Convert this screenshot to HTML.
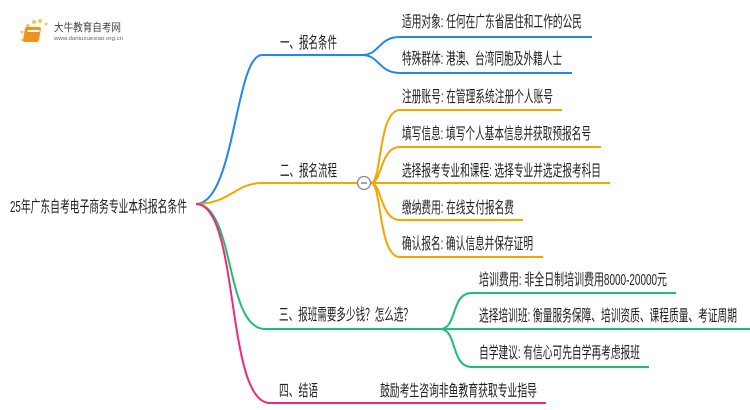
<!DOCTYPE html>
<html><head><meta charset="utf-8"><style>
body{margin:0;background:#fff;}
svg{display:block;}
text{font-family:"Liberation Sans","Noto Sans CJK SC",sans-serif;font-size:16px;fill:#222;}
</style></head><body>
<svg width="750" height="410" viewBox="0 0 750 410">
<g>
<circle cx="28" cy="26" r="2" fill="#f7c55a"/><circle cx="34" cy="22" r="2" fill="#f7c55a"/><circle cx="40" cy="21" r="2" fill="#f7c55a"/><circle cx="22" cy="32" r="1.5" fill="#f7c55a"/><circle cx="46" cy="24" r="1.5" fill="#f7c55a"/><circle cx="22" cy="40" r="1.5" fill="#f7d58a"/>
<rect x="30" y="27" width="16" height="15" rx="2" fill="#f0931e" transform="skewX(-10)"/>
<rect x="33" y="30" width="12" height="2" fill="#fff" transform="skewX(-10)"/>
<text x="54" y="31" style="font-size:11px;fill:#444" textLength="67" lengthAdjust="spacingAndGlyphs">大牛教育自考网</text>
<text x="54" y="40" style="font-size:5px;fill:#666" textLength="69" lengthAdjust="spacingAndGlyphs">www.daniuxuexiao.org.cn</text>
</g>
<text x="10" y="212" textLength="177" lengthAdjust="spacingAndGlyphs">25年广东自考电子商务专业本科报名条件</text>
<g fill="none" stroke-width="2">
<path d="M196 204 C235 204 235 55 262 55 L362 55" stroke="#1e88f0"/>
<path d="M362 55 C380 55 378 37 400 37 L592 37 M362 55 C380 55 378 73 400 73 L572 73" stroke="#1e88f0"/>
<path d="M196 204 C230 204 235 183 262 183 L357 183" stroke="#f5a500"/>
<path d="M371 183 C382 183 378 110 400 110 L562 110 M371 183 C382 183 380 147 400 147 L601 147 M371 183 L610 183 M371 183 C382 183 380 220 400 220 L523 220 M371 183 C382 183 378 257 400 257 L543 257" stroke="#f5a500"/>
<path d="M196 204 C235 204 225 329 265 329 L440 329" stroke="#1dbf73"/>
<path d="M440 329 C458 329 450 293 472 293 L676 293 M440 329 L750 329 M440 329 C458 329 450 367 472 367 L649 367" stroke="#1dbf73"/>
<path d="M196 204 C240 204 225 403 270 403 L546 403" stroke="#f0287a"/>
</g>
<circle cx="364" cy="183" r="6.5" fill="#fff" stroke="#888" stroke-width="1.3"/>
<line x1="361" y1="183" x2="367" y2="183" stroke="#666" stroke-width="1.2"/>
<text x="280" y="48" textLength="57" lengthAdjust="spacingAndGlyphs">一、报名条件</text>
<text x="280" y="176" textLength="57" lengthAdjust="spacingAndGlyphs">二、报名流程</text>
<text x="279" y="320" textLength="134" lengthAdjust="spacingAndGlyphs">三、报班需要多少钱？怎么选？</text>
<text x="279" y="396" textLength="39" lengthAdjust="spacingAndGlyphs">四、结语</text>
<text x="402" y="27" textLength="180" lengthAdjust="spacingAndGlyphs">适用对象: 任何在广东省居住和工作的公民</text>
<text x="402" y="64" textLength="160" lengthAdjust="spacingAndGlyphs">特殊群体: 港澳、台湾同胞及外籍人士</text>
<text x="402" y="102" textLength="151" lengthAdjust="spacingAndGlyphs">注册账号: 在管理系统注册个人账号</text>
<text x="402" y="139" textLength="189" lengthAdjust="spacingAndGlyphs">填写信息: 填写个人基本信息并获取预报名号</text>
<text x="402" y="176" textLength="199" lengthAdjust="spacingAndGlyphs">选择报考专业和课程: 选择专业并选定报考科目</text>
<text x="402" y="213" textLength="112" lengthAdjust="spacingAndGlyphs">缴纳费用: 在线支付报名费</text>
<text x="402" y="249" textLength="131" lengthAdjust="spacingAndGlyphs">确认报名: 确认信息并保存证明</text>
<text x="479" y="285" textLength="188" lengthAdjust="spacingAndGlyphs">培训费用: 非全日制培训费用8000-20000元</text>
<text x="479" y="321" textLength="258" lengthAdjust="spacingAndGlyphs">选择培训班: 衡量服务保障、培训资质、课程质量、考证周期</text>
<text x="479" y="358" textLength="161" lengthAdjust="spacingAndGlyphs">自学建议: 有信心可先自学再考虑报班</text>
<text x="380" y="396" textLength="157" lengthAdjust="spacingAndGlyphs">鼓励考生咨询非鱼教育获取专业指导</text>
</svg>
</body></html>
